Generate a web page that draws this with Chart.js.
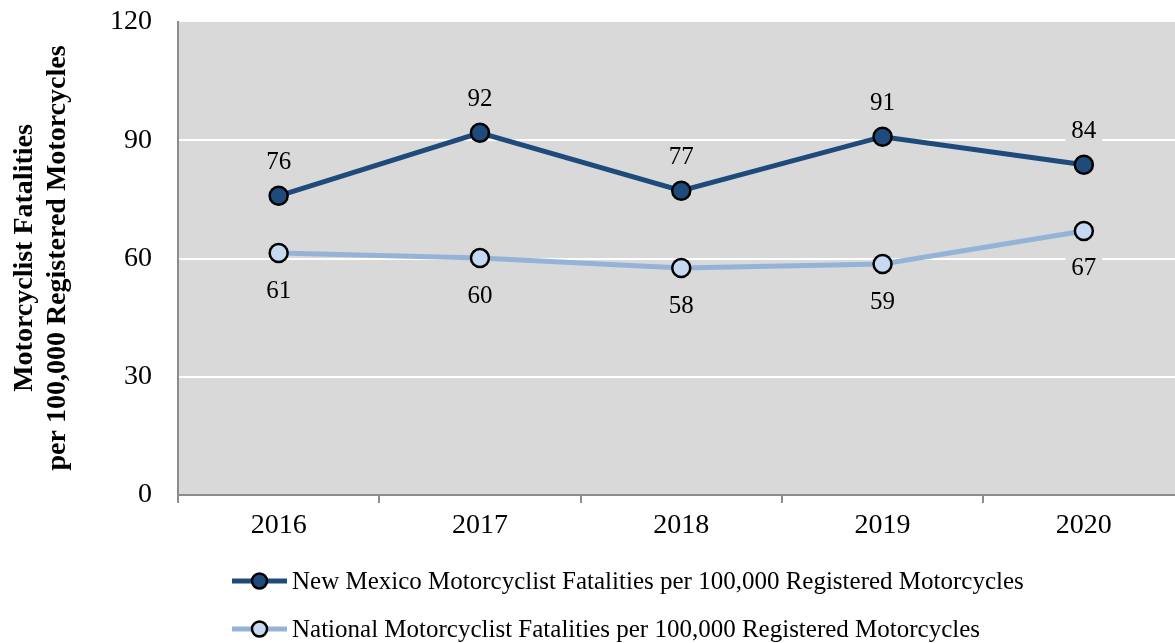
<!DOCTYPE html>
<html>
<head>
<meta charset="utf-8">
<script src="https://cdn.jsdelivr.net/npm/chart.js@4/dist/chart.umd.min.js"></script>
<style>
  html, body { margin: 0; padding: 0; background: #fff; overflow: hidden; }
  #wrap { position: relative; width: 1196px; height: 643px; }
</style>
</head>
<body>
<div id="wrap"><canvas id="myChart"></canvas></div>
<script>
const years = ["2016", "2017", "2018", "2019", "2020"]
const newMexico = [75.9, 91.9, 77.2, 90.9, 83.8]
const national = [61.4, 60.1, 57.6, 58.6, 67.0]
const yTicks = [0, 30, 60, 90, 120]
const seriesNames = [
    "New Mexico Motorcyclist Fatalities per 100,000 Registered Motorcycles",
    "National Motorcyclist Fatalities per 100,000 Registered Motorcycles",
]
const yTitle = ["Motorcyclist Fatalities", "per 100,000 Registered Motorcycles"]

const FONT = "'Liberation Serif', serif"
const lineColors = ["#1f4a7c", "#95b3d7"]
const pointColors = ["#1f4a7c", "#c6d9f1"]
const plotBg = "#d9d9d9"

// grey plot area background
const plotBackground = {
    id: 'plotBackground',
    beforeDraw(chart) {
        const { ctx, chartArea: a } = chart
        ctx.save()
        ctx.fillStyle = plotBg
        ctx.fillRect(a.left, a.top, a.right - a.left, a.bottom - a.top)
        ctx.restore()
    }
}

// value labels: NM above, national below, with grey box behind
const valueLabels = {
    id: 'valueLabels',
    afterDatasetsDraw(chart) {
        const ctx = chart.ctx
        ctx.save()
        ctx.font = "25px " + FONT
        ctx.textAlign = 'center'
        ctx.textBaseline = 'middle'
        chart.data.datasets.forEach((ds, i) => {
            chart.getDatasetMeta(i).data.forEach((pt, j) => {
                const txt = String(Math.round(ds.data[j]))
                const y = i === 0 ? pt.y - 34 : pt.y + 37
                const w = ctx.measureText(txt).width + 12
                ctx.fillStyle = plotBg
                ctx.fillRect(pt.x - w / 2, y - 14, w, 28)
                ctx.fillStyle = '#000'
                ctx.fillText(txt, pt.x, y + 1)
            })
        })
        ctx.restore()
    }
}

// y title and legend
const extras = {
    id: 'extras',
    afterDraw(chart) {
        const ctx = chart.ctx
        ctx.save()
        ctx.fillStyle = '#000'
        ctx.font = "bold 28px " + FONT
        ctx.textAlign = 'center'
        ctx.textBaseline = 'middle'
        const cy = 258
        ;[25, 58].forEach((x, k) => {
            ctx.save()
            ctx.translate(x, cy)
            ctx.rotate(-Math.PI / 2)
            ctx.fillText(yTitle[k], 0, 0)
            ctx.restore()
        })

        // legend
        ctx.font = "25px " + FONT
        ctx.textAlign = 'left'
        ;[581, 629].forEach((y, k) => {
            ctx.strokeStyle = lineColors[k]
            ctx.lineWidth = 5
            ctx.beginPath()
            ctx.moveTo(232, y)
            ctx.lineTo(287, y)
            ctx.stroke()
            ctx.beginPath()
            ctx.arc(259.5, y, 7.5, 0, Math.PI * 2)
            ctx.fillStyle = pointColors[k]
            ctx.fill()
            ctx.lineWidth = 2.5
            ctx.strokeStyle = '#000'
            ctx.stroke()
            ctx.fillStyle = '#000'
            ctx.fillText(seriesNames[k], 292, y + 1)
        })
        ctx.restore()
    }
}

const ctx = document.getElementById('myChart').getContext('2d')

const myChart = new Chart(ctx, {
    type: 'line',
    data: {
        labels: years,
        datasets: [
            {
                label: seriesNames[0],
                data: newMexico,
                borderColor: lineColors[0],
                backgroundColor: pointColors[0],
                borderWidth: 5,
                pointRadius: 9,
                pointBorderWidth: 2.5,
                pointBorderColor: '#000',
                pointBackgroundColor: pointColors[0],
            },
            {
                label: seriesNames[1],
                data: national,
                borderColor: lineColors[1],
                backgroundColor: pointColors[1],
                borderWidth: 5,
                pointRadius: 9,
                pointBorderWidth: 2.5,
                pointBorderColor: '#000',
                pointBackgroundColor: pointColors[1],
            },
        ],
    },
    options: {
        responsive: true,
        maintainAspectRatio: false,
        animation: false,
        layout: { padding: { top: 22, right: 6, bottom: 98, left: 0 } },
        plugins: {
            legend: { display: false },
            tooltip: { enabled: false },
        },
        scales: {
            x: {
                offset: true,
                grid: {
                    offset: true,
                    drawOnChartArea: false,
                    drawTicks: true,
                    tickLength: 8,
                    color: '#8c8c8c',
                    lineWidth: 2,
                },
                border: { color: '#8c8c8c', width: 2 },
                ticks: {
                    color: '#000',
                    font: { family: FONT, size: 28 },
                    padding: 6,
                },
                afterFit(scale) { scale.height = 50 },
            },
            y: {
                min: 0,
                max: 120,
                afterBuildTicks(scale) {
                    scale.ticks = yTicks.map(v => ({ value: v }))
                },
                grid: {
                    drawTicks: false,
                    lineWidth: 2,
                    color: c => (c.tick.value === 0 || c.tick.value === 120) ? 'rgba(0,0,0,0)' : '#ffffff',
                },
                border: { color: '#8c8c8c', width: 2 },
                ticks: {
                    color: '#000',
                    font: { family: FONT, size: 28 },
                    padding: 26,
                },
                afterFit(scale) {
                    scale.width = 178
                    scale.paddingTop = 0
                    scale.paddingBottom = 0
                },
            },
        },
    },
    plugins: [plotBackground, valueLabels, extras],
});
</script>
</body>
</html>
